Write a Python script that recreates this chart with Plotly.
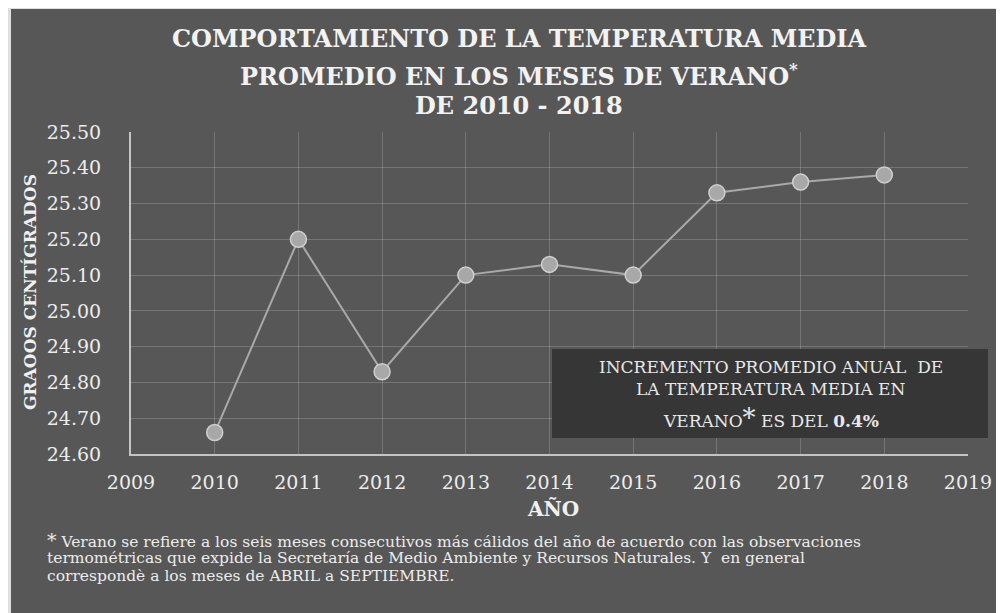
import plotly.graph_objects as go

years = [2010, 2011, 2012, 2013, 2014, 2015, 2016, 2017, 2018]
temps = [24.66, 25.20, 24.83, 25.10, 25.13, 25.10, 25.33, 25.36, 25.38]
y_ticks = [24.60, 24.70, 24.80, 24.90, 25.00, 25.10, 25.20, 25.30, 25.40, 25.50]
x_ticks = list(range(2009, 2020))

title_lines = [
    "COMPORTAMIENTO DE LA TEMPERATURA MEDIA",
    "PROMEDIO EN LOS MESES DE VERANO<sup>*</sup>",
    "DE 2010 - 2018",
]
y_title = "GRAOOS CENTÍGRADOS"
x_title = "AÑO"
box_lines = [
    "INCREMENTO PROMEDIO ANUAL  DE",
    "LA TEMPERATURA MEDIA EN",
    "VERANO<span style='font-size:26px'>*</span> ES DEL <b>0.4%</b>",
]
footnote_lines = [
    "<span style='font-size:19px'>*</span> Verano se refiere a los seis meses consecutivos más cálidos del año de acuerdo con las observaciones",
    "termométricas que expide la Secretaría de Medio Ambiente y Recursos Naturales. Y  en general",
    "correspondè a los meses de ABRIL a SEPTIEMBRE.",
]

SERIF = "DejaVu Serif"
OFF = 8  # page body margin
PAGE_W, PAGE_H = 1004, 613
W, H = PAGE_W - OFF, PAGE_H - OFF
# plot area in page pixel coordinates
L, R, T, B = 131, 968, 132, 454

def px(xp):
    return (xp - L) / (R - L)

def py(yp):
    return (B - yp) / (B - T)

fig = go.Figure()
fig.add_trace(go.Scatter(
    x=years, y=temps, mode="lines+markers",
    line=dict(color="#a9a9a9", width=2),
    marker=dict(size=16, color="#a8a8a8", line=dict(color="#cfcfcf", width=1.5)),
    showlegend=False, hoverinfo="x+y",
))

shapes = [
    dict(type="rect", xref="paper", yref="paper", x0=px(11), x1=px(1020), y0=py(9), y1=py(630),
         fillcolor="#575757", line=dict(width=0), layer="below"),
    dict(type="rect", xref="paper", yref="paper", x0=px(552), x1=px(988), y0=py(438), y1=py(349),
         fillcolor="#363636", line=dict(width=0), layer="above"),
]

annotations = []
for txt, yy in zip(title_lines, [39, 75, 105]):
    annotations.append(dict(text=f"<b>{txt}</b>", x=px(519), y=py(yy), xref="paper", yref="paper",
                            showarrow=False, xanchor="center", yanchor="middle",
                            font=dict(family=SERIF, size=24, color="#f2f2f2")))
annotations.append(dict(text=f"<b>{y_title}</b>", x=px(30), y=py(292), xref="paper", yref="paper",
                        showarrow=False, textangle=-90, xanchor="center", yanchor="middle",
                        font=dict(family=SERIF, size=17, color="#f0f0f0")))
annotations.append(dict(text=f"<b>{x_title}</b>", x=px(553), y=py(509), xref="paper", yref="paper",
                        showarrow=False, xanchor="center", yanchor="middle",
                        font=dict(family=SERIF, size=20, color="#f0f0f0")))
for txt, yy in zip(box_lines, [367, 389, 418]):
    annotations.append(dict(text=txt, x=px(771), y=py(yy), xref="paper", yref="paper",
                            showarrow=False, xanchor="center", yanchor="middle",
                            font=dict(family=SERIF, size=17, color="#e8e8e8")))
for txt, yy in zip(footnote_lines, [540, 558, 576]):
    annotations.append(dict(text=txt, x=px(45), y=py(yy), xref="paper", yref="paper",
                            showarrow=False, xanchor="left", yanchor="middle", align="left",
                            font=dict(family=SERIF, size=15.5, color="#ececec")))

fig.update_layout(
    width=W, height=H,
    margin=dict(l=L - OFF, r=PAGE_W - R, t=T - OFF, b=PAGE_H - B),
    paper_bgcolor="#dedede",
    plot_bgcolor="rgba(0,0,0,0)",
    shapes=shapes,
    annotations=annotations,
    xaxis=dict(range=[2009, 2019], tickvals=x_ticks, ticktext=[str(v) for v in x_ticks],
               showgrid=True, gridcolor="rgba(190,190,190,0.3)", gridwidth=1,
               showline=True, linecolor="#c4c4c4", linewidth=2, zeroline=False,
               ticks="", ticklabelstandoff=10,
               tickfont=dict(family=SERIF, size=19, color="#ececec")),
    yaxis=dict(range=[24.6, 25.5], tickvals=y_ticks, ticktext=[f"{v:.2f}" for v in y_ticks],
               showgrid=True, gridcolor="rgba(190,190,190,0.3)", gridwidth=1,
               showline=True, linecolor="#c4c4c4", linewidth=2, zeroline=False,
               ticks="", ticklabelstandoff=24,
               tickfont=dict(family=SERIF, size=19, color="#ececec")),
)

fig.write_html("out.html")
